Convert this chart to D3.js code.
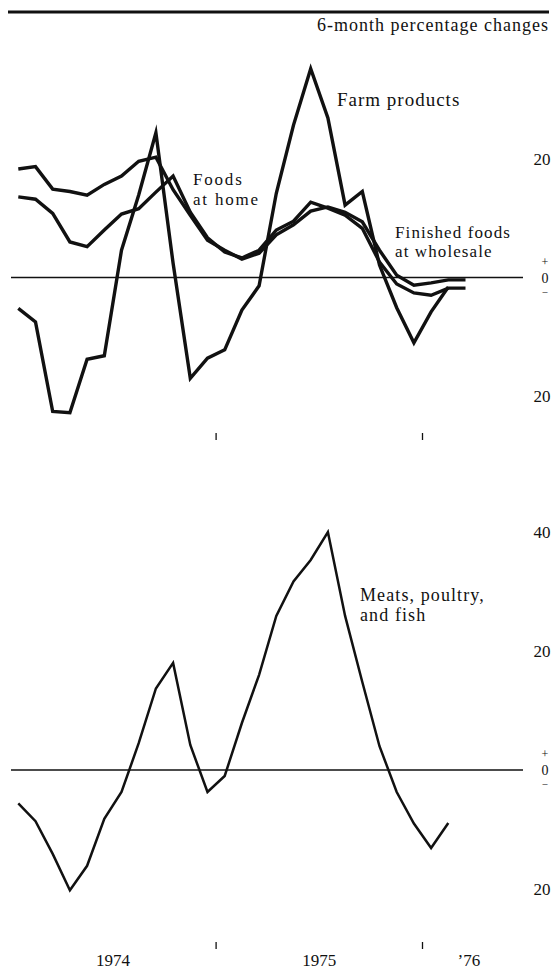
<!DOCTYPE html>
<html>
<head>
<meta charset="utf-8">
<script src="https://cdn.jsdelivr.net/npm/d3@7"></script>
<style>
    html, body { margin: 0; padding: 0; background: #fff; }
    svg { display: block; }
    text { font-family: 'Liberation Serif', 'Times New Roman', serif; fill: #111; }
</style>
</head>
<body>
<div id="chart"></div>
<script>
(function () {
    'use strict';

    // months: 0 = Jan 1974 ... 26 = Mar 1976
    var months = d3.range(0, 27);

    // 6-month percentage changes
    var farmProducts = [-5.2, -7.5, -22.6, -22.8, -13.8, -13.2, 4.6, 13.9, 24.4, 2.4, -17.0, -13.6, -12.2,
        -5.5, -1.4, 14.2, 25.7, 35.2, 26.9, 12.2, 14.5, 2.1, -5.1, -11.0, -5.8, -1.6];
    var finishedFoods = [18.3, 18.7, 14.9, 14.5, 13.9, 15.7, 17.1, 19.6, 20.3, 14.8, 10.5, 6.3, 4.6,
        3.1, 4.1, 7.2, 8.9, 11.2, 11.9, 11.0, 9.4, 4.6, 0.4, -1.3, -0.9, -0.4, -0.4];
    var foodsAtHome = [13.6, 13.2, 10.8, 6.0, 5.2, 8.0, 10.7, 11.6, 14.4, 17.1, 11.0, 6.7, 4.3,
        3.3, 4.6, 8.0, 9.5, 12.7, 11.7, 10.5, 8.3, 2.6, -1.1, -2.6, -3.0, -1.8, -1.8];
    var meats = [-5.6, -8.6, -14.1, -20.2, -16.1, -8.2, -3.7, 4.5, 13.7, 18.0, 4.2, -3.7, -1.0,
        7.9, 16.0, 25.9, 31.7, 35.3, 40.0, 25.9, 14.8, 4.0, -3.7, -9.0, -13.1, -8.9];

    var topTicks = [20, 0, -20];
    var bottomTicks = [40, 20, 0, -20];
    var yearLabels = ['1974', '1975', '\u201976'];
    var yearLabelAt = [5.5, 17.5, 26.2];     // month index
    var yearBreaks = [11.5, 23.5];            // month index

    var width = 554;
    var height = 974;

    var svg = d3.select('#chart').append('svg')
        .attr('width', width)
        .attr('height', height);

    var x = d3.scaleLinear()
        .domain([0, 26])
        .range([18.3, 465.5]);

    var yTop = d3.scaleLinear()
        .domain([-20, 20])
        .range([396.1, 158.9]);

    var yBottom = d3.scaleLinear()
        .domain([-20, 40])
        .range([889, 532]);

    //top rule and subtitle
    svg.append('line')
        .attr('x1', 8).attr('x2', 549)
        .attr('y1', 12).attr('y2', 12)
        .attr('stroke', '#111')
        .attr('stroke-width', 3);

    svg.append('text')
        .attr('x', 549)
        .attr('y', 31)
        .attr('text-anchor', 'end')
        .style('font-size', '18px')
        .style('letter-spacing', '1px')
        .text('6-month percentage changes');

    function panel(y, ticks, tickY) {
        var g = svg.append('g');

        // zero line
        g.append('line')
            .attr('x1', 11).attr('x2', 523)
            .attr('y1', y(0)).attr('y2', y(0))
            .attr('stroke', '#111')
            .attr('stroke-width', 1.6);

        // right hand scale
        var axis = d3.axisRight(y)
            .tickValues(ticks.filter(function (d) { return d !== 0; }))
            .tickSize(0)
            .tickPadding(0)
            .tickFormat(function (d) { return Math.abs(d); });

        var ax = g.append('g')
            .attr('transform', 'translate(542,0)')
            .call(axis);
        ax.select('.domain').remove();
        ax.selectAll('text')
            .attr('text-anchor', 'middle')
            .attr('font-family', null)
            .attr('font-size', null)
            .attr('fill', null)
            .style('font-size', '17px');

        // stacked + 0 - at the zero line
        var zero = g.append('g')
            .attr('transform', 'translate(545,' + y(0) + ')')
            .attr('text-anchor', 'middle');
        zero.append('text').attr('y', -12).style('font-size', '12px').text('+');
        zero.append('text').attr('y', 5).style('font-size', '14px').text('0');
        zero.append('text').attr('y', 17).style('font-size', '10px').text('\u2013');

        // year break ticks
        g.selectAll('.yearTick')
            .data(yearBreaks).enter()
            .append('line')
            .attr('class', 'yearTick')
            .attr('x1', function (d) { return x(d); })
            .attr('x2', function (d) { return x(d); })
            .attr('y1', tickY).attr('y2', tickY + 7)
            .attr('stroke', '#111')
            .attr('stroke-width', 1.3);

        return g;
    }

    function drawSeries(g, y, values, strokeWidth) {
        var line = d3.line()
            .x(function (d, i) { return x(months[i]); })
            .y(function (d) { return y(d); });

        g.append('path')
            .datum(values)
            .attr('d', line)
            .attr('fill', 'none')
            .attr('stroke', '#111')
            .attr('stroke-width', strokeWidth)
            .attr('stroke-linejoin', 'miter')
            .attr('stroke-miterlimit', 6);
    }

    function label(lines, lx, ly, size, spacing, lineHeight) {
        var t = svg.append('text')
            .attr('x', lx)
            .attr('y', ly)
            .style('font-size', size + 'px')
            .style('letter-spacing', spacing + 'px');
        lines.forEach(function (s, i) {
            t.append('tspan')
                .attr('x', lx)
                .attr('dy', i === 0 ? 0 : lineHeight)
                .text(s);
        });
    }

    //top panel: farm and food prices
    var top = panel(yTop, topTicks, 433);
    drawSeries(top, yTop, farmProducts, 3.4);
    drawSeries(top, yTop, finishedFoods, 3.4);
    drawSeries(top, yTop, foodsAtHome, 3.4);

    label(['Farm products'], 337, 106, 19, 1.0, 0);
    label(['Foods', 'at home'], 193, 185, 17, 1.8, 20);
    label(['Finished foods', 'at wholesale'], 395, 238, 17, 1.1, 19);

    //bottom panel: meats, poultry and fish
    var bottom = panel(yBottom, bottomTicks, 942);
    drawSeries(bottom, yBottom, meats, 2.5);

    label(['Meats, poultry,', 'and fish'], 360, 601, 18, 1.1, 20);

    //year labels
    svg.selectAll('.year')
        .data(yearLabels).enter()
        .append('text')
        .attr('class', 'year')
        .attr('x', function (d, i) { return x(yearLabelAt[i]); })
        .attr('y', 966)
        .attr('text-anchor', 'middle')
        .style('font-size', '17px')
        .text(function (d) { return d; });
})();
</script>
</body>
</html>
